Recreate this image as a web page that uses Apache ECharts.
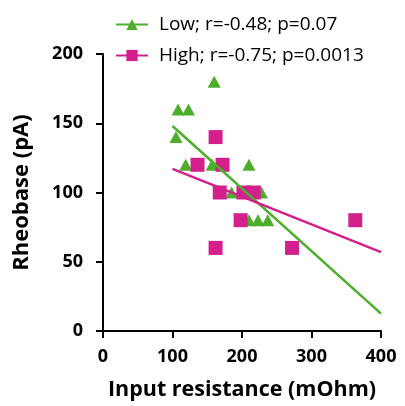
<!DOCTYPE html>
<html>
<head>
<meta charset="utf-8">
<script src="https://cdn.jsdelivr.net/npm/echarts@6/dist/echarts.min.js"></script>
<style>html,body{margin:0;padding:0;background:#fff}#c{width:405px;height:406px}</style>
</head>
<body>
<div id="c"></div>
<script>
// Data
const lowPoints = [[105,140],[108,160],[123,160],[160,180],[119,120],[157,120],[210,120],[185,100],[228,100],[210,80],[223,80],[237,80]];
const highPoints = [[162,140],[136,120],[172,120],[168,100],[202,100],[217,100],[198,80],[162,60],[272,60],[363,80]];
const lowFit = [[100,148],[400,12.5]];
const highFit = [[100,117],[400,57]];
const lowName = 'Low; r=-0.48; p=0.07';
const highName = 'High; r=-0.75; p=0.0013';
const xTicks = [0,100,200,300,400];
const yTicks = [0,50,100,150,200];

const green = '#4cae2a';
const pink = '#d3208c';
const font = 'Open Sans';

const chart = echarts.init(document.getElementById('c'), null, {renderer:'canvas'});
chart.setOption({
  animation: false,
  grid: {left: 103, top: 54, width: 278, height: 278, containLabel: false},
  legend: {
    left: 110, top: 10, orient: 'vertical', itemWidth: 32, itemHeight: 14, itemGap: 12,
    data: [lowName, highName],
    textStyle: {fontFamily: font, fontSize: 19, color: '#000', padding:[0,0,0,6]}
  },
  xAxis: {
    type: 'value', min: xTicks[0], max: xTicks[xTicks.length-1], interval: 100,
    name: 'Input resistance (mOhm)', nameLocation: 'middle', nameGap: 48,
    nameTextStyle: {fontFamily: font, fontWeight: 'bold', fontSize: 21.5, color: '#000'},
    axisLine: {show: true, lineStyle: {color: '#000', width: 2}},
    axisTick: {show: true, length: 7, lineStyle: {color: '#000', width: 2}},
    axisLabel: {fontFamily: font, fontWeight: 'bold', fontSize: 18, color: '#000', margin: 17},
    splitLine: {show: false}
  },
  yAxis: {
    type: 'value', min: yTicks[0], max: yTicks[yTicks.length-1], interval: 50,
    name: 'Rheobase (pA)', nameLocation: 'middle', nameGap: 70,
    nameTextStyle: {fontFamily: font, fontWeight: 'bold', fontSize: 22, color: '#000'},
    axisLine: {show: true, lineStyle: {color: '#000', width: 2}},
    axisTick: {show: true, length: 7, lineStyle: {color: '#000', width: 2}},
    axisLabel: {fontFamily: font, fontWeight: 'bold', fontSize: 18, color: '#000', margin: 20},
    splitLine: {show: false}
  },
  series: [
    {type: 'scatter', name: 'lowPts', data: lowPoints, symbol: 'triangle', symbolSize: [13,12], itemStyle: {color: green, opacity: 1}, z: 3},
    {type: 'scatter', name: 'highPts', data: highPoints, symbol: 'rect', symbolSize: 14, itemStyle: {color: pink, opacity: 1}, z: 3},
    {type: 'line', name: lowName, data: lowFit, symbol: 'triangle', showSymbol: false, lineStyle: {color: green, width: 2.5}, itemStyle: {color: green}, z: 4},
    {type: 'line', name: highName, data: highFit, symbol: 'rect', showSymbol: false, lineStyle: {color: pink, width: 2.5}, itemStyle: {color: pink}, z: 4}
  ]
});
</script>
</body>
</html>
